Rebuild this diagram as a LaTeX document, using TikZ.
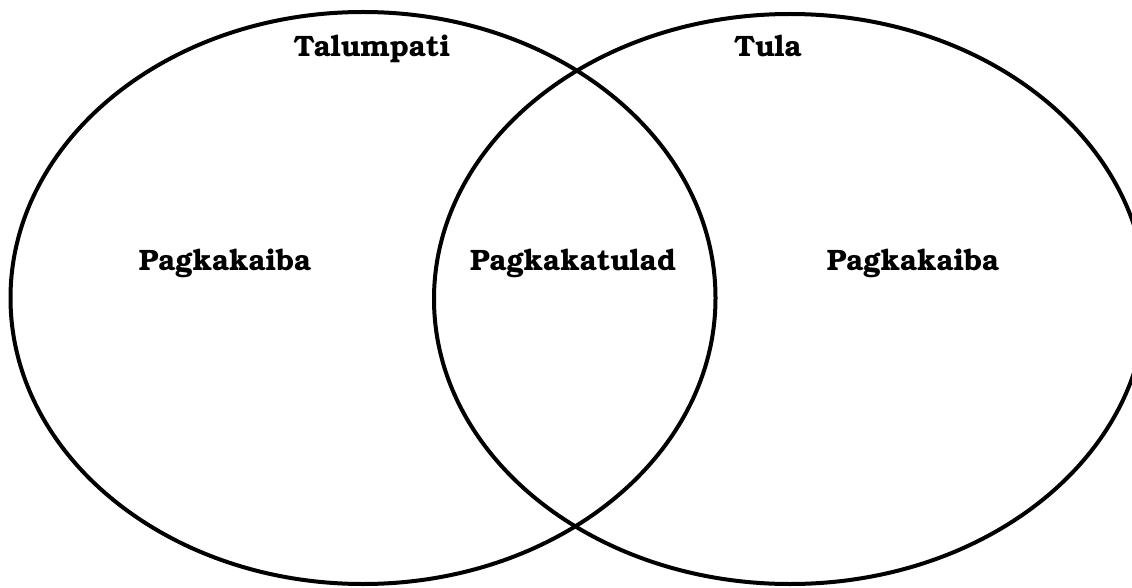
\documentclass[tikz,border=0pt]{standalone}
\usepackage[T1]{fontenc}
\usepackage{bookman}
\usetikzlibrary{arrows,shapes}

\tikzset{label/.style={anchor=base,inner sep=0pt,font=\fontsize{29.5}{34}\selectfont\bfseries}}

\begin{document}
\begin{tikzpicture}[x=1pt,y=-1pt]

\useasboundingbox (0,0) rectangle (1132,588);
\clip (0,0) rectangle (1132,588);

% Sets
\draw[][line width=4pt] (363,298) ellipse (352.5pt and 286pt);
\draw[][line width=4pt] (790,299) ellipse (356pt and 285pt);

% Titles
\node[label] (talumpati) at (372,57) {Talumpati};
\node[label] (tula) at (768,57) {Tula};

% Regions
\node[label] (kaibaL) at (225,270) {Pagkakaiba};
\node[label] (tulad) at (573,270) {Pagkakatulad};
\node[label] (kaibaR) at (913,270) {Pagkakaiba};

\end{tikzpicture}
\end{document}
